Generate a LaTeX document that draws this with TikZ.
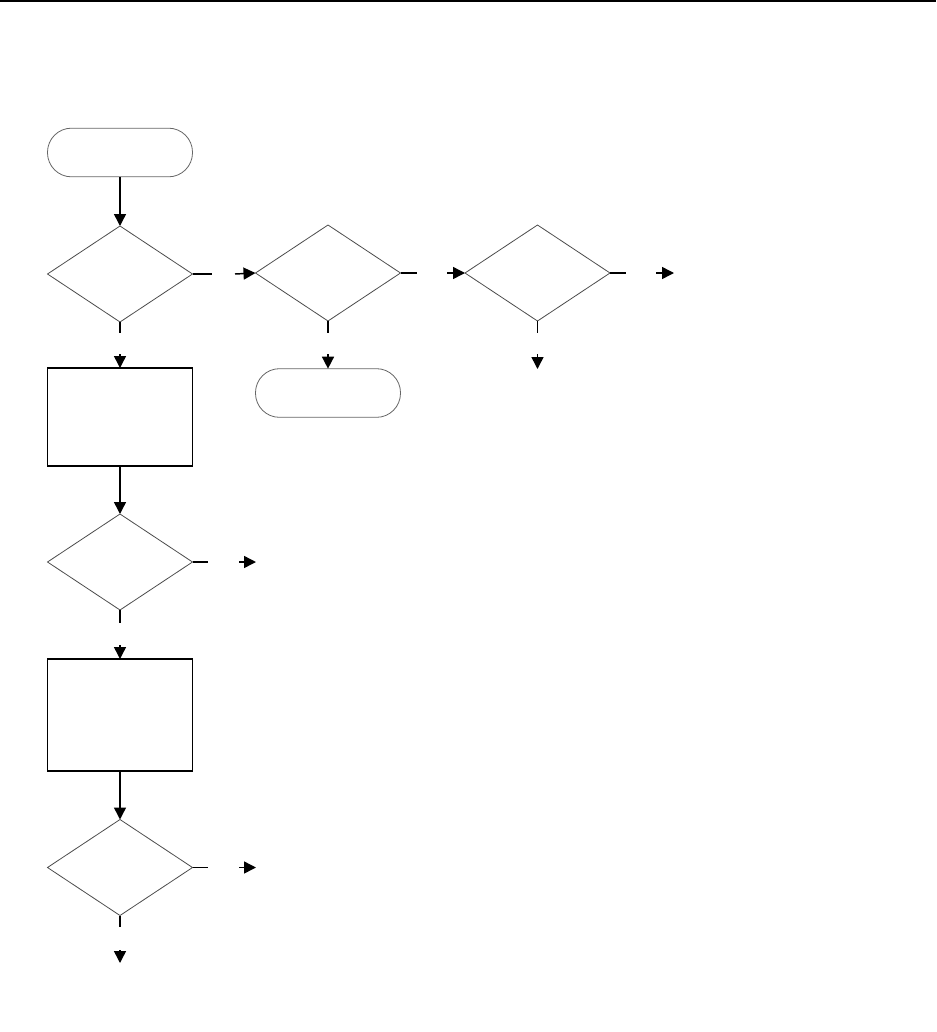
\documentclass[tikz,border=0pt]{standalone}
\usetikzlibrary{shapes.geometric,arrows.meta}
\begin{document}
\begin{tikzpicture}[x=0.75pt,y=-0.75pt,
  dec/.style={diamond,draw=black!70,line width=0.6pt,minimum width=108.75pt,minimum height=72pt,inner sep=0pt,outer sep=0pt},
  term/.style={rectangle,draw=black!60,line width=0.6pt,rounded corners=18pt,minimum width=108.75pt,minimum height=36.5pt,inner sep=0pt,outer sep=0pt},
  proc/.style={rectangle,draw=black,line width=0.9pt,minimum width=108.75pt,inner sep=0pt,outer sep=0pt},
  link/.style={draw=black,line width=1.1pt},
  arr/.style={link,-{Triangle[length=9pt,width=9pt]}}]
\useasboundingbox (0,0) rectangle (936,1032);
\draw[line width=1.6pt] (0,1) coordinate (rl) -- (936,1) coordinate (rr);
% nodes
\node[term] (start) at (120,152.5) {};
\node[dec] (d1) at (120,274) {};
\node[dec] (d2) at (328,273) {};
\node[dec] (d3) at (537.5,273) {};
\node[proc,minimum height=73.5pt] (b1) at (120,417) {};
\node[term] (t2) at (328,393) {};
\node[dec] (d4) at (120,562) {};
\node[proc,minimum height=84pt] (b2) at (120,715) {};
\node[dec] (d5) at (120,867.5) {};
% coordinates for free ends
\coordinate (s1e) at (212,274);
\coordinate (a1) at (235,274);
\coordinate (s2e) at (417,273);
\coordinate (a2) at (447,273);
\coordinate (s3e) at (626,273);
\coordinate (a3) at (656,273);
\coordinate (e3) at (674,273);
\coordinate (s1s) at (120,333);
\coordinate (a1s) at (120,354);
\coordinate (s2s) at (328,333);
\coordinate (a2s) at (328,354);
\coordinate (s3s) at (537.5,333);
\coordinate (a3s) at (537.5,354);
\coordinate (e3s) at (537.5,369);
\coordinate (s4e) at (208,562);
\coordinate (a4) at (239,562);
\coordinate (e4) at (256,562);
\coordinate (s4s) at (120,623);
\coordinate (a4s) at (120,645);
\coordinate (s5e) at (208,867.5);
\coordinate (a5) at (239,867.5);
\coordinate (e5) at (256,867.5);
\coordinate (s5s) at (120,927);
\coordinate (a5s) at (120,950);
\coordinate (e5s) at (120,963);
% connectors
\draw[arr] (start) -- (d1);
\draw[link] (d1.east) -- (s1e);
\draw[arr] (a1) -- (d2.west);
\draw[link] (d2.east) -- (s2e);
\draw[arr] (a2) -- (d3.west);
\draw[link] (d3.east) -- (s3e);
\draw[arr] (a3) -- (e3);
\draw[link] (d1.south) -- (s1s);
\draw[arr] (a1s) -- (b1.north);
\draw[link] (d2.south) -- (s2s);
\draw[arr] (a2s) -- (t2.north);
\draw[link] (d3.south) -- (s3s);
\draw[arr] (a3s) -- (e3s);
\draw[arr] (b1) -- (d4);
\draw[link] (d4.east) -- (s4e);
\draw[arr] (a4) -- (e4);
\draw[link] (d4.south) -- (s4s);
\draw[arr] (a4s) -- (b2.north);
\draw[arr] (b2) -- (d5);
\draw[link] (d5.east) -- (s5e);
\draw[arr] (a5) -- (e5);
\draw[link] (d5.south) -- (s5s);
\draw[arr] (a5s) -- (e5s);
\end{tikzpicture}
\end{document}
